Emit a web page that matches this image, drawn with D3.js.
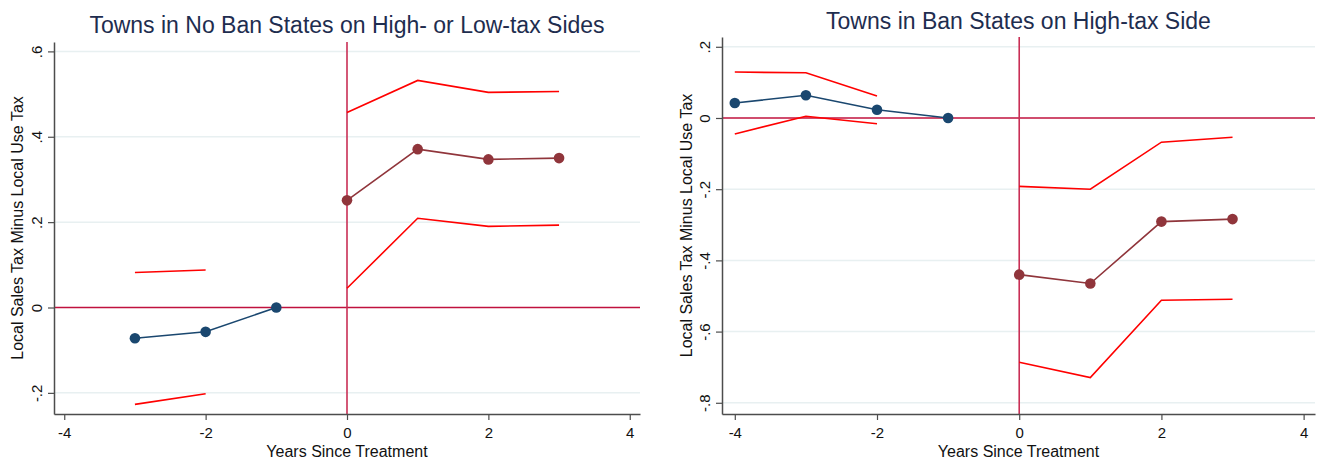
<!DOCTYPE html>
<html>
<head>
<meta charset="utf-8">
<script src="https://cdn.jsdelivr.net/npm/d3@7"></script>
<style>
  html, body { margin: 0; padding: 0; background: #fff; }
  svg { display: block; font-family: "Liberation Sans", Arial, sans-serif; }
</style>
</head>
<body>
<svg id="chart" width="1319" height="461"></svg>
<script>
// ---------- Data ----------
const xTicks = [-4, -2, 0, 2, 4];
const xTickLabels = ["-4", "-2", "0", "2", "4"];

// Left panel: Towns in No Ban States on High- or Low-tax Sides
const leftTitle = "Towns in No Ban States on High- or Low-tax Sides";
const leftYTicks = [-0.2, 0, 0.2, 0.4, 0.6];
const leftYTickLabels = ["-.2", "0", ".2", ".4", ".6"];
const leftPreX = [-3, -2, -1];
const leftPreY = [-0.072, -0.057, 0];
const leftPreCIX = [-3, -2];
const leftPreHi = [0.082, 0.088];
const leftPreLo = [-0.227, -0.202];
const leftPostX = [0, 1, 2, 3];
const leftPostY = [0.251, 0.371, 0.347, 0.350];
const leftPostHi = [0.457, 0.532, 0.504, 0.506];
const leftPostLo = [0.045, 0.209, 0.190, 0.193];

// Right panel: Towns in Ban States on High-tax Side
const rightTitle = "Towns in Ban States on High-tax Side";
const rightYTicks = [-0.8, -0.6, -0.4, -0.2, 0, 0.2];
const rightYTickLabels = ["-.8", "-.6", "-.4", "-.2", "0", ".2"];
const rightPreX = [-4, -3, -2, -1];
const rightPreY = [0.042, 0.064, 0.023, 0];
const rightPreCIX = [-4, -3, -2];
const rightPreHi = [0.129, 0.127, 0.062];
const rightPreLo = [-0.045, 0.005, -0.016];
const rightPostX = [0, 1, 2, 3];
const rightPostY = [-0.440, -0.465, -0.291, -0.284];
const rightPostHi = [-0.192, -0.200, -0.068, -0.054];
const rightPostLo = [-0.686, -0.729, -0.512, -0.509];

const yLabel = "Local Sales Tax Minus Local Use Tax";
const xLabel = "Years Since Treatment";

// ---------- Styles ----------
const colPre = "#1a476f";
const colPost = "#90353b";
const colCI = "#ff0000";
const colRefH = "#c0123e";
const colRefV = "#c92f55";
const colGrid = "#e8f0f1";
const colAxis = "#4d4d4d";
const colTitle = "#1e2d4f";

const svg = d3.select("#chart");
svg.append("rect").attr("width", 1319).attr("height", 461).attr("fill", "#fff");

function zip(xs, ys) { return xs.map((x, i) => [x, ys[i]]); }

const panels = [
  {
    title: leftTitle, titleY: 33,
    left: 54, right: 640, top: 42, bottom: 414,
    xDomain: [-4.145, 4.145], yDomain: [-0.2495, 0.622],
    yTicks: leftYTicks, yTickLabels: leftYTickLabels,
    yLabelX: 23,
    pre: zip(leftPreX, leftPreY), preHi: zip(leftPreCIX, leftPreHi), preLo: zip(leftPreCIX, leftPreLo),
    post: zip(leftPostX, leftPostY), postHi: zip(leftPostX, leftPostHi), postLo: zip(leftPostX, leftPostLo)
  },
  {
    title: rightTitle, titleY: 29,
    left: 722, right: 1315, top: 37, bottom: 414,
    xDomain: [-4.18, 4.16], yDomain: [-0.8315, 0.2275],
    yTicks: rightYTicks, yTickLabels: rightYTickLabels,
    yLabelX: 692,
    pre: zip(rightPreX, rightPreY), preHi: zip(rightPreCIX, rightPreHi), preLo: zip(rightPreCIX, rightPreLo),
    post: zip(rightPostX, rightPostY), postHi: zip(rightPostX, rightPostHi), postLo: zip(rightPostX, rightPostLo)
  }
];

panels.forEach(p => {
  const x = d3.scaleLinear().domain(p.xDomain).range([p.left, p.right]);
  const y = d3.scaleLinear().domain(p.yDomain).range([p.bottom, p.top]);
  const g = svg.append("g");

  // grid lines
  g.selectAll(".grid").data(p.yTicks.filter(t => t !== 0)).join("line")
    .attr("x1", p.left).attr("x2", p.right)
    .attr("y1", d => y(d)).attr("y2", d => y(d))
    .attr("stroke", colGrid).attr("stroke-width", 1.5);

  // reference lines
  g.append("line")
    .attr("x1", p.left).attr("x2", p.right)
    .attr("y1", y(0)).attr("y2", y(0))
    .attr("stroke", colRefH).attr("stroke-width", 1.6);
  g.append("line")
    .attr("x1", x(0)).attr("x2", x(0))
    .attr("y1", p.top).attr("y2", p.bottom)
    .attr("stroke", colRefV).attr("stroke-width", 1.6);

  const line = d3.line().x(d => x(d[0])).y(d => y(d[1]));

  // CI lines
  [p.preHi, p.preLo, p.postHi, p.postLo].forEach(s => {
    g.append("path").attr("d", line(s))
      .attr("fill", "none").attr("stroke", colCI).attr("stroke-width", 1.6);
  });

  // estimate lines + markers
  [[p.pre, colPre], [p.post, colPost]].forEach(([s, c]) => {
    g.append("path").attr("d", line(s))
      .attr("fill", "none").attr("stroke", c).attr("stroke-width", 1.6);
    g.selectAll(null).data(s).join("circle")
      .attr("cx", d => x(d[0])).attr("cy", d => y(d[1]))
      .attr("r", 5.3).attr("fill", c);
  });

  // axes
  const xAxis = d3.axisBottom(x).tickValues(xTicks)
    .tickFormat((d, i) => xTickLabels[i]).tickSize(6).tickSizeOuter(0).tickPadding(7);
  const xg = g.append("g").attr("transform", `translate(0,${p.bottom})`).call(xAxis);
  xg.select(".domain").attr("stroke", colAxis).attr("stroke-width", 1.5);
  xg.selectAll(".tick line").attr("stroke", colAxis).attr("stroke-width", 1.2);
  xg.selectAll(".tick text").attr("font-size", 15).attr("fill", "#111")
    .attr("font-family", "Liberation Sans, Arial, sans-serif");

  const yAxis = d3.axisLeft(y).tickValues(p.yTicks)
    .tickFormat((d, i) => p.yTickLabels[i]).tickSize(6).tickSizeOuter(0);
  const yg = g.append("g").attr("transform", `translate(${p.left},0)`).call(yAxis);
  yg.select(".domain").attr("stroke", colAxis).attr("stroke-width", 1.5);
  yg.selectAll(".tick line").attr("stroke", colAxis).attr("stroke-width", 1.2);
  yg.selectAll(".tick text")
    .attr("font-size", 15).attr("fill", "#111")
    .attr("font-family", "Liberation Sans, Arial, sans-serif")
    .attr("x", null).attr("dy", null)
    .attr("text-anchor", "middle")
    .attr("transform", "translate(-12,0) rotate(-90)");

  // title
  g.append("text")
    .attr("x", (p.left + p.right) / 2).attr("y", p.titleY)
    .attr("text-anchor", "middle").attr("font-size", 23)
    .attr("fill", colTitle).text(p.title);

  // axis titles
  g.append("text")
    .attr("x", (p.left + p.right) / 2).attr("y", 457)
    .attr("text-anchor", "middle").attr("font-size", 16)
    .attr("fill", "#111").text(xLabel);
  g.append("text")
    .attr("transform", `translate(${p.yLabelX},${(p.top + p.bottom) / 2}) rotate(-90)`)
    .attr("text-anchor", "middle").attr("font-size", 16)
    .attr("fill", "#111").text(yLabel);
});
</script>
</body>
</html>
